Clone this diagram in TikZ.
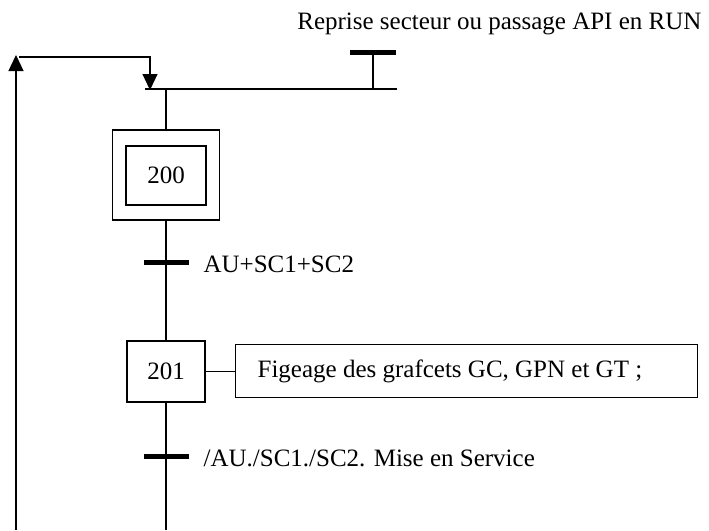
\documentclass[tikz,border=0pt]{standalone}
\usepackage{fontspec}
\setmainfont{Liberation Serif}
\usetikzlibrary{arrows.meta}
\begin{document}
\begin{tikzpicture}[x=1pt,y=-1pt,line width=1.2pt,
  txt/.style={font=\fontsize{25}{30}\selectfont, inner sep=0pt},
  stepbox/.style={draw, inner sep=0pt, font=\fontsize{25}{30}\selectfont},
  actbox/.style={draw, inner sep=0pt, font=\fontsize{25}{30}\selectfont},
  tbar/.style={fill=black, draw=none, inner sep=0pt, minimum width=45pt, minimum height=5pt},
  arr/.style={-{Triangle[width=15pt,length=16pt]}}]
\useasboundingbox (0,0) rectangle (709,530);
% top rail and receptivity
\coordinate (railL) at (145,89);
\coordinate (railR) at (397,89);
\coordinate (railS) at (166,89);
\coordinate (railT) at (373,89);
\draw (railL) -- (railR);
\node[tbar, minimum width=46pt] (tinit) at (373,52) {};
\draw (tinit.center) -- (railT);
\node[txt, anchor=east] (tinitlbl) at (702,24) {Reprise secteur ou passage API en RUN};
% steps
\node[stepbox, minimum width=107pt, minimum height=90pt] (s200o) at (166,175) {};
\node[stepbox, minimum width=80pt, minimum height=59pt] (s200) at (166,175.5) {200};
\node[stepbox, minimum width=78pt, minimum height=61pt] (s201) at (166,371.5) {201};
\node[actbox, anchor=west, minimum width=462pt, minimum height=53pt] (a201) at (235,371) {};
\node[txt, anchor=west] (a201lbl) at (257,371) {Figeage des grafcets GC, GPN et GT ;};
% transitions
\node[tbar] (t1) at (166,262) {};
\node[txt, anchor=west] (t1lbl) at (203,264) {AU+SC1+SC2};
\node[tbar] (t2) at (166,456) {};
\node[txt, anchor=west] (t2lbl) at (203,458) {/AU./SC1./SC2. Mise en Service};
% links
\coordinate (bot) at (166,530);
\draw (railS) -- (s200o.north);
\draw (s200o.south) -- (s201.north);
\draw (s201.south) -- (bot);
\draw (s201.east) -- (s201.east -| a201.west);
% loop back
\coordinate (loopB) at (16,530);
\coordinate (loopT) at (16,55);
\coordinate (loopL) at (19,57);
\coordinate (loopR) at (150,57);
\coordinate (loopE) at (150,90);
\draw[arr] (loopB) -- (loopT);
\draw[arr] (loopL) -- (loopR) -- (loopE);
\end{tikzpicture}
\end{document}
